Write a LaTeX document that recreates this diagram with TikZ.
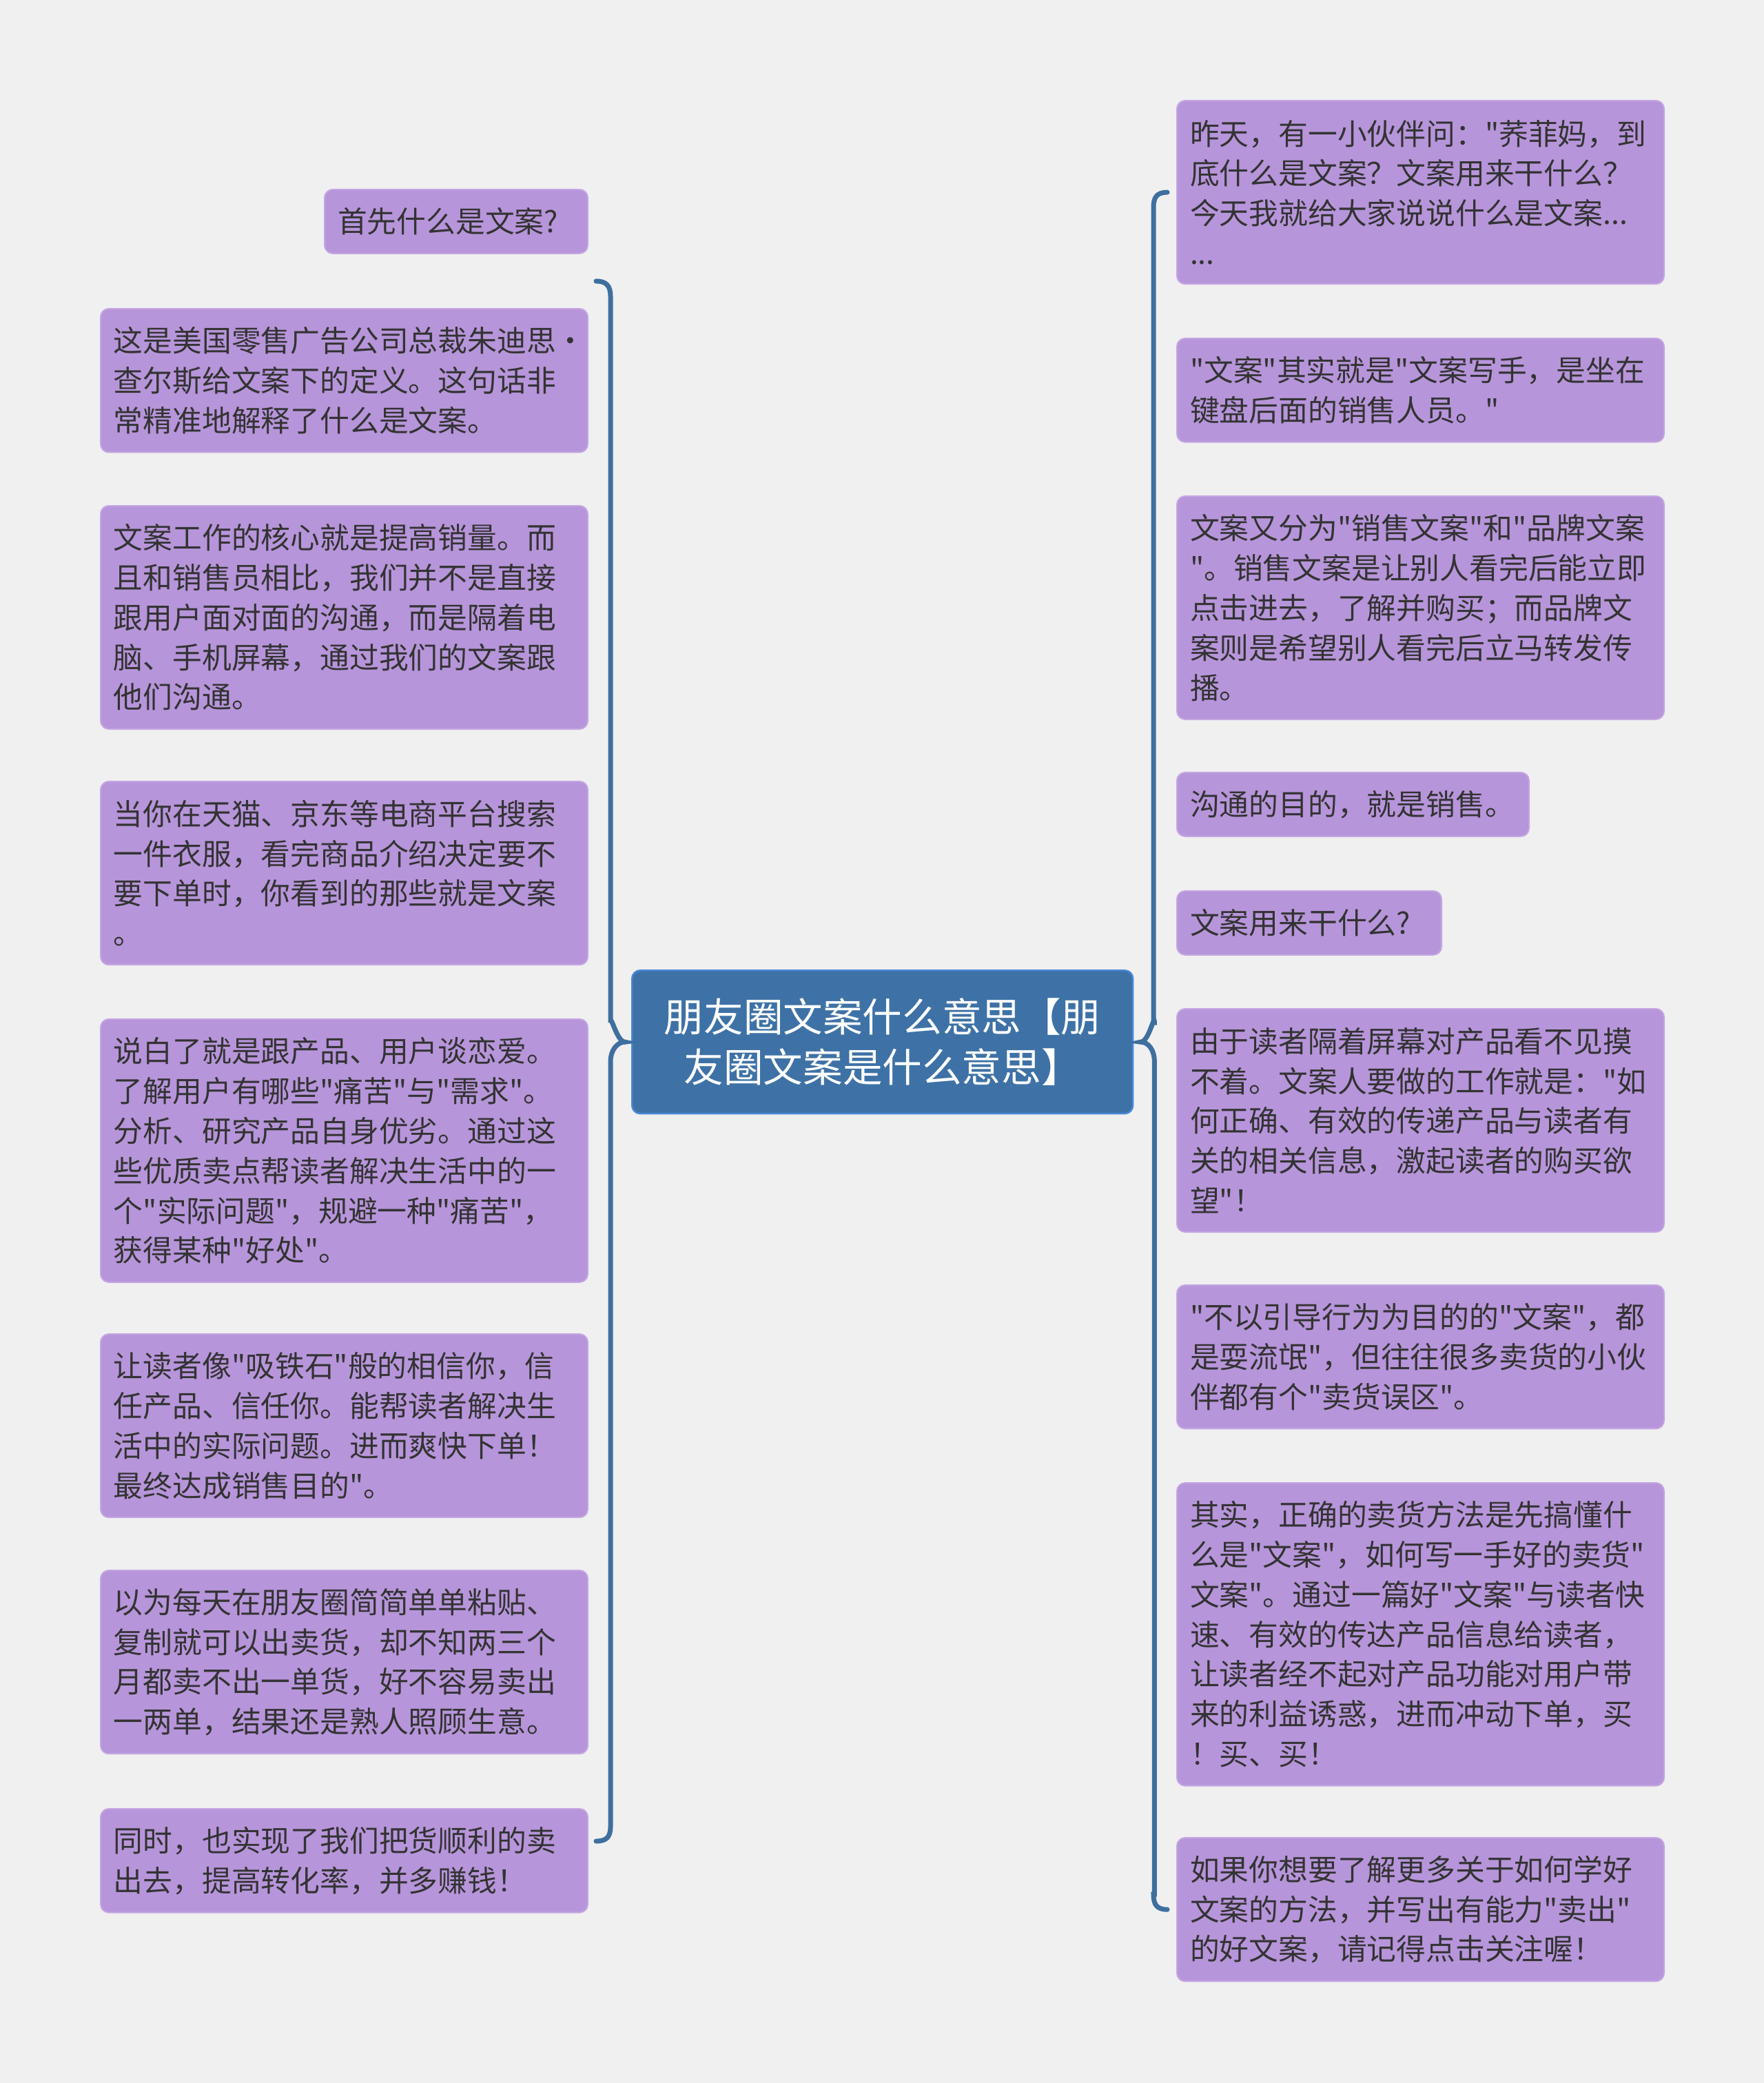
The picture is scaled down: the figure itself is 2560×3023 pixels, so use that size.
\documentclass[tikz,border=0pt]{standalone}
\usepackage{fontspec}
\setmainfont{Noto Sans CJK SC}[Ligatures=TeXOff]
\begin{document}
\begin{tikzpicture}[x=0.25pt,y=-0.25pt,
  leaf/.style={draw=leafline,fill=leaffill,line width=0.5pt,rounded corners=3pt,
    anchor=north west,inner xsep=4.75pt,inner ysep=0pt,align=left,text=txt,
    text width=167.25pt,font=\fontsize{10.7pt}{14.45pt}\selectfont},
  lines/.style={minimum height=8.75pt+#1*14.45pt},
  rootbox/.style={draw=rootline,fill=rootfill,line width=0.6pt,rounded corners=3pt,
    anchor=north west,minimum width=181.75pt,minimum height=52pt,align=center,
    text=white,text width=170pt,font=\fontsize{14.4pt}{18.3pt}\selectfont},
  brace/.style={draw=bracecol,line width=1.75pt,line cap=round}]
\definecolor{bg}{HTML}{F0F0F0}
\definecolor{leaffill}{HTML}{B795DA}
\definecolor{leafline}{HTML}{C4A6E2}
\definecolor{txt}{HTML}{333333}
\definecolor{rootfill}{HTML}{3E72A6}
\definecolor{rootline}{HTML}{4A88DA}
\definecolor{bracecol}{HTML}{3E6F9E}
\fill[bg] (0,0) rectangle (2560,3023);
\node[rootbox] (root) at (916,1407) {朋友圈文案什么意思【朋\\友圈文案是什么意思】};
\node[leaf,lines=1,text width=86pt] (l1) at (470,274) {首先什么是文案?};
\node[leaf,lines=3] (l2) at (145,447) {这是美国零售广告公司总裁朱迪思·\\查尔斯给文案下的定义。这句话非\\常精准地解释了什么是文案。};
\node[leaf,lines=5] (l3) at (145,733) {文案工作的核心就是提高销量。而\\且和销售员相比，我们并不是直接\\跟用户面对面的沟通，而是隔着电\\脑、手机屏幕，通过我们的文案跟\\他们沟通。};
\node[leaf,lines=4] (l4) at (145,1133) {当你在天猫、京东等电商平台搜索\\一件衣服，看完商品介绍决定要不\\要下单时，你看到的那些就是文案\\。};
\node[leaf,lines=6] (l5) at (145,1478) {说白了就是跟产品、用户谈恋爱。\\了解用户有哪些"痛苦"与"需求"。\\分析、研究产品自身优劣。通过这\\些优质卖点帮读者解决生活中的一\\个"实际问题"，规避一种"痛苦"，\\获得某种"好处"。};
\node[leaf,lines=4] (l6) at (145,1935) {让读者像"吸铁石"般的相信你，信\\任产品、信任你。能帮读者解决生\\活中的实际问题。进而爽快下单！\\最终达成销售目的"。};
\node[leaf,lines=4] (l7) at (145,2278) {以为每天在朋友圈简简单单粘贴、\\复制就可以出卖货，却不知两三个\\月都卖不出一单货，好不容易卖出\\一两单，结果还是熟人照顾生意。};
\node[leaf,lines=2] (l8) at (145,2624) {同时，也实现了我们把货顺利的卖\\出去，提高转化率，并多赚钱！};
\node[leaf,lines=4] (r1) at (1707,145) {昨天，有一小伙伴问："荞菲妈，到\\底什么是文案？文案用来干什么？\\今天我就给大家说说什么是文案...\\...};
\node[leaf,lines=2] (r2) at (1707,490) {"文案"其实就是"文案写手，是坐在\\键盘后面的销售人员。"};
\node[leaf,lines=5] (r3) at (1707,719) {文案又分为"销售文案"和"品牌文案\\"。销售文案是让别人看完后能立即\\点击进去，了解并购买；而品牌文\\案则是希望别人看完后立马转发传\\播。};
\node[leaf,lines=1,text width=118.25pt] (r4) at (1707,1120) {沟通的目的，就是销售。};
\node[leaf,lines=1,text width=86.5pt] (r5) at (1707,1292) {文案用来干什么?};
\node[leaf,lines=5] (r6) at (1707,1463) {由于读者隔着屏幕对产品看不见摸\\不着。文案人要做的工作就是："如\\何正确、有效的传递产品与读者有\\关的相关信息，激起读者的购买欲\\望"！};
\node[leaf,lines=3] (r7) at (1707,1864) {"不以引导行为为目的的"文案"，都\\是耍流氓"，但往往很多卖货的小伙\\伴都有个"卖货误区"。};
\node[leaf,lines=7] (r8) at (1707,2151) {其实，正确的卖货方法是先搞懂什\\么是"文案"，如何写一手好的卖货"\\文案"。通过一篇好"文案"与读者快\\速、有效的传达产品信息给读者，\\让读者经不起对产品功能对用户带\\来的利益诱惑，进而冲动下单，买\\！买、买！};
\node[leaf,lines=3] (r9) at (1707,2666) {如果你想要了解更多关于如何学好\\文案的方法，并写出有能力"卖出"\\的好文案，请记得点击关注喔！};
\coordinate (ltop) at (865,408);
\coordinate (lbot) at (865,2672);
\coordinate (ltip) at ([xshift=-2.25pt]root.west);
\coordinate (rtop) at ([xshift=-3.25pt]r1.west);
\coordinate (rbot) at ([xshift=-3.25pt]r9.west);
\coordinate (rtip) at ([xshift=2.5pt]root.east);
\draw[brace] (ltop) .. controls ++(15,0) and ++(0,-15) .. ++(21,22)
  |- ([xshift=-5.25pt,yshift=7pt]ltip) .. controls ++(0,-15) and ++(-12,0) .. (ltip)
  .. controls ++(-12,0) and ++(0,-15) .. ++(-21,28) |- ([xshift=5.25pt,yshift=5.25pt]lbot)
  .. controls ++(0,15) and ++(15,0) .. (lbot);
\draw[brace] (rtop) .. controls ++(-15,0) and ++(0,-15) .. ++(-20,22)
  |- ([xshift=5pt,yshift=7pt]rtip) .. controls ++(0,-15) and ++(12,0) .. (rtip)
  .. controls ++(12,0) and ++(0,-15) .. ++(20,28) |- ([xshift=-5pt,yshift=5.5pt]rbot)
  .. controls ++(0,15) and ++(-15,0) .. (rbot);
\end{tikzpicture}
\end{document}
